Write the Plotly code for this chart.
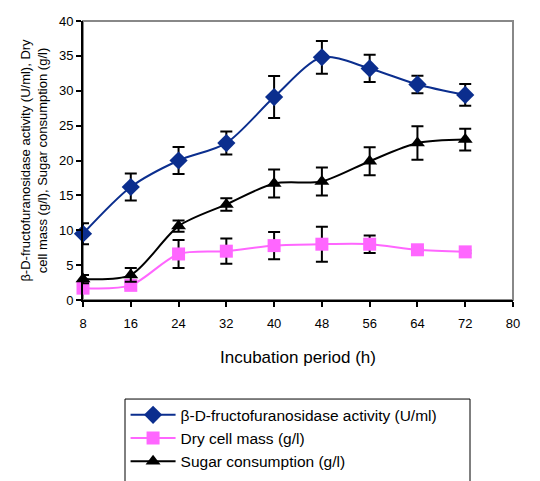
import plotly.graph_objects as go

hours = [8, 16, 24, 32, 40, 48, 56, 64, 72]
enzyme = [9.5, 16.2, 20.0, 22.5, 29.1, 34.8, 33.2, 30.9, 29.4]
enzyme_err = [1.5, 1.95, 1.95, 1.65, 3.0, 2.35, 1.95, 1.25, 1.55]
dry_mass = [1.7, 2.1, 6.6, 7.0, 7.8, 8.0, 8.0, 7.2, 6.9]
dry_mass_err = [0.3, 0.4, 2.0, 1.8, 1.95, 2.5, 1.25, 0.2, 0.2]
sugar = [3.0, 3.6, 10.6, 13.7, 16.7, 17.0, 19.9, 22.5, 23.0]
sugar_err = [0.6, 1.0, 0.8, 0.9, 2.0, 2.0, 2.0, 2.4, 1.55]

x_ticks = [8, 16, 24, 32, 40, 48, 56, 64, 72, 80]
y_ticks = [0, 5, 10, 15, 20, 25, 30, 35, 40]

series = [
    ("β-D-fructofuranosidase activity (U/ml)", enzyme, enzyme_err, "#0B2E8E", "diamond", 14),
    ("Dry cell mass (g/l)", dry_mass, dry_mass_err, "#FF66FF", "square", 13),
    ("Sugar consumption (g/l)", sugar, sugar_err, "#000000", "triangle-up", 13),
]

fig = go.Figure()
for name, vals, errs, color, sym, size in series:
    fig.add_trace(go.Scatter(
        x=hours, y=vals, name=name, mode="lines+markers",
        line=dict(color=color, width=2, shape="spline", smoothing=0.8),
        marker=dict(color=color, symbol=sym, size=size),
        error_y=dict(type="data", array=errs, visible=True, color="black", thickness=2, width=6),
        cliponaxis=False,
    ))

font_family = "Liberation Sans, Arial, sans-serif"

fig.update_layout(
    width=540, height=481,
    margin=dict(l=83, r=27, t=21, b=181, autoexpand=False),
    paper_bgcolor="white", plot_bgcolor="white",
    font=dict(family=font_family, size=13, color="black"),
    showlegend=True,
    legend=dict(
        x=0.099, y=0.172, xanchor="left", yanchor="top", yref="container",
        borderwidth=0, bgcolor="rgba(0,0,0,0)",
        font=dict(size=15.5, family=font_family),
        itemwidth=45,
    ),
    shapes=[
        dict(type="rect", xref="paper", yref="paper", x0=0, x1=1, y0=0, y1=1,
             line=dict(color="#888888", width=2), layer="below"),
        dict(type="rect", xref="paper", yref="paper", x0=0.0977, x1=0.9, y0=-0.355, y1=-0.75,
             line=dict(color="black", width=1), fillcolor="rgba(0,0,0,0)"),
    ],
)

fig.update_xaxes(
    range=[8, 80], tickvals=x_ticks, ticks="outside", ticklen=5, tickwidth=2,
    tickcolor="black", showline=True, linecolor="black", linewidth=2,
    showgrid=False, zeroline=False, ticklabelstandoff=5,
    title=dict(text="Incubation period (h)", font=dict(size=17), standoff=22),
    tickfont=dict(size=13),
)
fig.update_yaxes(
    range=[0, 40], tickvals=y_ticks, ticks="outside", ticklen=5, tickwidth=2,
    tickcolor="black", showline=True, linecolor="black", linewidth=2,
    showgrid=False, zeroline=False,
    title=dict(text="β-D-fructofuranosidase activity (U/ml), Dry<br>cell mass (g/l), Sugar consumption (g/l)",
               font=dict(size=13), standoff=8),
    tickfont=dict(size=13),
)

fig.write_html("out.html")
